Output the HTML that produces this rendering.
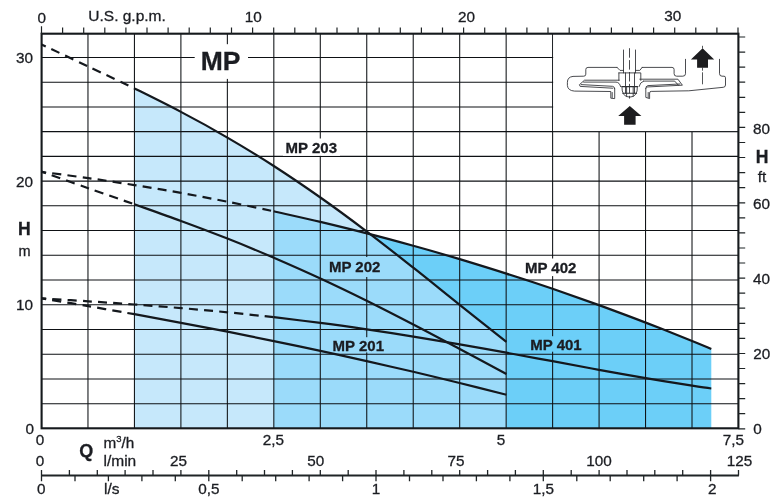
<!DOCTYPE html>
<html><head><meta charset="utf-8"><title>MP</title>
<style>html,body{margin:0;padding:0;background:#fff}body{width:778px;height:501px;overflow:hidden}</style></head>
<body>
<svg width="778" height="501" viewBox="0 0 778 501" style="display:block">
<rect width="778" height="501" fill="#fff"/>
<path d="M134.4,428 L134.4,88.4 L136.4,89.4 L138.4,90.4 L140.4,91.3 L142.4,92.3 L144.4,93.3 L146.4,94.3 L148.4,95.3 L150.4,96.3 L152.4,97.3 L154.4,98.3 L156.4,99.3 L158.4,100.3 L160.4,101.3 L162.4,102.3 L164.4,103.3 L166.4,104.3 L168.4,105.4 L170.4,106.4 L172.4,107.4 L174.4,108.5 L176.4,109.5 L178.4,110.5 L180.4,111.6 L182.4,112.6 L184.4,113.7 L186.4,114.8 L188.4,115.8 L190.4,116.9 L192.4,118.0 L194.4,119.1 L196.4,120.1 L198.4,121.2 L200.4,122.3 L202.4,123.4 L204.4,124.5 L206.4,125.6 L208.4,126.7 L210.4,127.9 L212.4,129.0 L214.4,130.1 L216.4,131.3 L218.4,132.4 L220.4,133.5 L222.4,134.7 L224.4,135.8 L226.4,137.0 L228.4,138.2 L230.4,139.3 L232.4,140.5 L234.4,141.7 L236.4,142.9 L238.4,144.1 L240.4,145.3 L242.4,146.5 L244.4,147.7 L246.4,148.9 L248.4,150.1 L250.4,151.3 L252.4,152.5 L254.4,153.8 L256.4,155.0 L258.4,156.3 L260.4,157.5 L262.4,158.8 L264.4,160.0 L266.4,161.3 L268.4,162.6 L270.4,163.8 L272.4,165.1 L274.4,166.4 L276.4,167.7 L278.4,169.0 L280.4,170.3 L282.4,171.6 L284.4,172.9 L286.4,174.2 L288.4,175.6 L290.4,176.9 L292.4,178.2 L294.4,179.6 L296.4,180.9 L298.4,182.3 L300.4,183.6 L302.4,185.0 L304.4,186.4 L306.4,187.7 L308.4,189.1 L310.4,190.5 L312.4,191.9 L314.4,193.3 L316.4,194.7 L318.4,196.1 L320.4,197.5 L322.4,198.9 L324.4,200.3 L326.4,201.8 L328.4,203.2 L330.4,204.6 L332.4,206.1 L334.4,207.5 L336.4,209.0 L338.4,210.4 L340.4,211.9 L342.4,213.3 L344.4,214.8 L346.4,216.3 L348.4,217.8 L350.4,219.2 L352.4,220.7 L354.4,222.2 L356.4,223.7 L358.4,225.2 L360.4,226.7 L362.4,228.2 L364.4,229.7 L366.4,231.2 L368.4,232.8 L370.4,234.3 L370.4,428 Z" fill="#c6e8fb"/>
<path d="M370.4,428 L370.4,234.3 L372.4,234.8 L374.4,235.3 L376.4,235.8 L378.4,236.3 L380.4,236.9 L382.4,237.4 L384.4,237.9 L386.4,238.5 L388.4,239.0 L390.4,239.5 L392.4,240.1 L394.4,240.6 L396.4,241.1 L398.4,241.7 L400.4,242.2 L402.4,242.8 L404.4,243.3 L406.4,243.9 L408.4,244.4 L410.4,245.0 L412.4,245.5 L414.4,246.1 L416.4,246.6 L418.4,247.2 L420.4,247.7 L422.4,248.3 L424.4,248.9 L426.4,249.4 L428.4,250.0 L430.4,250.6 L432.4,251.1 L434.4,251.7 L436.4,252.3 L438.4,252.9 L440.4,253.4 L442.4,254.0 L444.4,254.6 L446.4,255.2 L448.4,255.8 L450.4,256.4 L452.4,257.0 L454.4,257.5 L456.4,258.1 L458.4,258.7 L460.4,259.3 L462.4,259.9 L464.4,260.5 L466.4,261.1 L468.4,261.7 L470.4,262.3 L472.4,262.9 L474.4,263.6 L476.4,264.2 L478.4,264.8 L480.4,265.4 L482.4,266.0 L484.4,266.6 L486.4,267.2 L488.4,267.9 L490.4,268.5 L492.4,269.1 L494.4,269.7 L496.4,270.4 L498.4,271.0 L500.4,271.6 L502.4,272.3 L504.4,272.9 L506.4,273.6 L508.4,274.2 L510.4,274.8 L512.4,275.5 L514.4,276.1 L516.4,276.8 L518.4,277.4 L520.4,278.1 L522.4,278.7 L524.4,279.4 L526.4,280.0 L528.4,280.7 L530.4,281.4 L532.4,282.0 L534.4,282.7 L536.4,283.3 L538.4,284.0 L540.4,284.7 L542.4,285.4 L544.4,286.0 L546.4,286.7 L548.4,287.4 L550.4,288.1 L552.4,288.7 L554.4,289.4 L556.4,290.1 L558.4,290.8 L560.4,291.5 L562.4,292.2 L564.4,292.9 L566.4,293.6 L568.4,294.3 L570.4,295.0 L572.4,295.7 L574.4,296.4 L576.4,297.1 L578.4,297.8 L580.4,298.5 L582.4,299.2 L584.4,299.9 L586.4,300.6 L588.4,301.3 L590.4,302.0 L592.4,302.8 L594.4,303.5 L596.4,304.2 L598.4,304.9 L600.4,305.7 L602.4,306.4 L604.4,307.1 L606.4,307.8 L608.4,308.6 L610.4,309.3 L612.4,310.1 L614.4,310.8 L616.4,311.5 L618.4,312.3 L620.4,313.0 L622.4,313.8 L624.4,314.5 L626.4,315.3 L628.4,316.0 L630.4,316.8 L632.4,317.5 L634.4,318.3 L636.4,319.1 L638.4,319.8 L640.4,320.6 L642.4,321.3 L644.4,322.1 L646.4,322.9 L648.4,323.7 L650.4,324.4 L652.4,325.2 L654.4,326.0 L656.4,326.8 L658.4,327.5 L660.4,328.3 L662.4,329.1 L664.4,329.9 L666.4,330.7 L668.4,331.5 L670.4,332.3 L672.4,333.1 L674.4,333.9 L676.4,334.7 L678.4,335.5 L680.4,336.3 L682.4,337.1 L684.4,337.9 L686.4,338.7 L688.4,339.5 L690.4,340.3 L692.4,341.1 L694.4,342.0 L696.4,342.8 L698.4,343.6 L700.4,344.4 L702.4,345.3 L704.4,346.1 L706.4,346.9 L708.4,347.7 L710.4,348.6 L711.3,349.0 L711.3,428 Z" fill="#6ccff8"/>
<path d="M273.8,428 L273.8,211.3 L275.8,211.7 L277.8,212.2 L279.8,212.6 L281.8,213.1 L283.8,213.5 L285.8,213.9 L287.8,214.4 L289.8,214.8 L291.8,215.3 L293.8,215.7 L295.8,216.2 L297.8,216.6 L299.8,217.1 L301.8,217.5 L303.8,218.0 L305.8,218.5 L307.8,218.9 L309.8,219.4 L311.8,219.9 L313.8,220.3 L315.8,220.8 L317.8,221.3 L319.8,221.7 L321.8,222.2 L323.8,222.7 L325.8,223.2 L327.8,223.6 L329.8,224.1 L331.8,224.6 L333.8,225.1 L335.8,225.6 L337.8,226.1 L339.8,226.6 L341.8,227.1 L343.8,227.5 L345.8,228.0 L347.8,228.5 L349.8,229.0 L351.8,229.5 L353.8,230.0 L355.8,230.5 L357.8,231.0 L359.8,231.6 L361.8,232.1 L363.8,232.6 L365.8,233.1 L367.8,233.6 L369.8,234.1 L370.4,234.3 L370.4,234.3 L372.4,235.8 L374.4,237.3 L376.4,238.9 L378.4,240.4 L380.4,241.9 L382.4,243.5 L384.4,245.0 L386.4,246.6 L388.4,248.1 L390.4,249.7 L392.4,251.2 L394.4,252.8 L396.4,254.4 L398.4,255.9 L400.4,257.5 L402.4,259.1 L404.4,260.6 L406.4,262.2 L408.4,263.8 L410.4,265.4 L412.4,267.0 L414.4,268.6 L416.4,270.1 L418.4,271.7 L420.4,273.3 L422.4,274.9 L424.4,276.5 L426.4,278.1 L428.4,279.7 L430.4,281.3 L432.4,282.9 L434.4,284.5 L436.4,286.1 L438.4,287.7 L440.4,289.3 L442.4,290.9 L444.4,292.5 L446.4,294.1 L448.4,295.7 L450.4,297.3 L452.4,298.9 L454.4,300.5 L456.4,302.2 L458.4,303.8 L460.4,305.4 L462.4,307.0 L464.4,308.6 L466.4,310.2 L468.4,311.8 L470.4,313.4 L472.4,315.0 L474.4,316.6 L476.4,318.2 L478.4,319.8 L480.4,321.3 L482.4,322.9 L484.4,324.5 L486.4,326.1 L488.4,327.7 L490.4,329.3 L492.4,330.9 L494.4,332.4 L496.4,334.0 L498.4,335.6 L500.4,337.1 L502.4,338.7 L504.4,340.3 L506.4,341.8 L506.4,341.8 L506.4,428 Z" fill="#9bdbfa"/>
<path d="M87.97,34V428 M134.43,34V428 M180.90,34V428 M227.36,34V428 M273.83,34V428 M320.29,34V428 M366.75,34V428 M413.22,34V428 M459.69,34V428 M506.15,34V428 M552.62,34V428 M599.08,34V428 M645.55,34V428 M692.01,34V428 M41.5,403.67H738.5 M41.5,378.94H738.5 M41.5,354.21H738.5 M41.5,329.48H738.5 M41.5,304.75H738.5 M41.5,280.02H738.5 M41.5,255.29H738.5 M41.5,230.56H738.5 M41.5,205.83H738.5 M41.5,181.10H738.5 M41.5,156.37H738.5 M41.5,131.64H738.5 M41.5,106.91H738.5 M41.5,82.18H738.5 M41.5,57.45H738.5" stroke="#0e1114" stroke-width="1.05" fill="none"/>
<rect x="553.16" y="34" width="186" height="97.09" fill="#fff"/>
<rect x="194.7" y="44.2" width="53.3" height="34.7" fill="#fff"/>
<rect x="283" y="138.5" width="57" height="17.3" fill="#fff"/>
<rect x="522" y="258.5" width="58" height="17.6" fill="#fff"/>
<rect x="528" y="336.2" width="57" height="15.5" fill="#6ccff8"/>
<rect x="326" y="257" width="58" height="20" fill="#9bdbfa"/>
<rect x="330" y="337.2" width="57" height="15.2" fill="#9bdbfa"/>
<rect x="41.6" y="33.7" width="696.8" height="394.6" fill="none" stroke="#15191c" stroke-width="2.1"/>
<path d="M134.4,88.4 C142.2,92.3 165.4,103.7 180.9,111.9 C196.4,120.0 211.9,128.5 227.4,137.6 C242.9,146.6 258.3,156.0 273.8,166.0 C289.3,176.0 304.9,186.6 320.4,197.5 C335.9,208.4 351.4,219.9 366.9,231.6 C382.4,243.3 397.8,255.5 413.3,267.7 C428.8,279.9 444.2,292.5 459.7,304.8 C475.2,317.2 498.6,335.7 506.4,341.8" stroke="#14181d" stroke-width="2.2" fill="none"/>
<path d="M134.4,204.3 C142.2,207.1 165.5,215.2 181.0,221.0 C196.5,226.7 211.9,232.5 227.4,238.6 C242.9,244.7 258.3,251.1 273.8,257.7 C289.3,264.4 304.9,271.3 320.4,278.5 C335.9,285.7 351.2,293.1 366.7,300.7 C382.2,308.4 397.8,316.4 413.3,324.5 C428.8,332.5 444.2,340.8 459.7,349.0 C475.2,357.3 498.6,369.9 506.4,374.0" stroke="#14181d" stroke-width="2.2" fill="none"/>
<path d="M134.4,314.2 C142.2,315.6 165.5,319.9 181.0,322.8 C196.5,325.7 212.0,328.7 227.5,331.7 C243.0,334.8 258.3,337.9 273.8,341.1 C289.3,344.3 304.9,347.6 320.4,350.9 C335.9,354.2 351.2,357.6 366.7,361.1 C382.2,364.6 397.8,368.2 413.3,371.8 C428.8,375.5 444.1,379.2 459.6,383.0 C475.1,386.8 498.6,392.8 506.4,394.7" stroke="#14181d" stroke-width="2.2" fill="none"/>
<path d="M273.8,211.3 C281.6,213.1 304.9,218.2 320.4,221.9 C335.9,225.6 351.4,229.4 366.9,233.4 C382.4,237.3 397.8,241.5 413.3,245.8 C428.8,250.1 444.2,254.5 459.7,259.1 C475.2,263.8 490.9,268.6 506.4,273.6 C521.9,278.5 537.2,283.5 552.6,288.8 C568.0,294.1 583.5,299.5 599.0,305.1 C614.5,310.8 630.2,316.6 645.7,322.6 C661.2,328.6 681.2,336.6 692.1,341.0 C703.0,345.4 708.1,347.6 711.3,349.0" stroke="#14181d" stroke-width="2.2" fill="none"/>
<path d="M273.8,317.2 C281.6,318.2 304.9,320.9 320.4,322.9 C335.9,324.9 351.2,327.1 366.7,329.4 C382.2,331.7 397.9,334.1 413.4,336.6 C428.9,339.1 444.2,341.7 459.7,344.4 C475.2,347.1 490.9,349.9 506.4,352.7 C521.9,355.5 537.2,358.4 552.6,361.2 C568.0,364.1 583.5,367.0 599.0,369.8 C614.5,372.6 630.2,375.4 645.7,378.1 C661.2,380.7 681.2,383.9 692.1,385.7 C703.0,387.4 708.1,388.1 711.3,388.5" stroke="#14181d" stroke-width="2.2" fill="none"/>
<path d="M41.5,44.4 C49.2,48.1 72.5,59.0 88.0,66.4 C103.5,73.7 126.7,84.7 134.4,88.4" stroke="#14181d" stroke-width="2.2" fill="none" stroke-dasharray="9 6.2" stroke-dashoffset="4.2"/>
<path d="M41.5,171.6 C49.3,174.4 72.7,182.8 88.2,188.2 C103.7,193.6 126.7,201.6 134.4,204.3" stroke="#14181d" stroke-width="2.2" fill="none" stroke-dasharray="9 6.2" stroke-dashoffset="4.2"/>
<path d="M41.5,298.3 C49.3,299.6 72.7,303.4 88.2,306.1 C103.7,308.8 126.7,312.9 134.4,314.2" stroke="#14181d" stroke-width="2.2" fill="none" stroke-dasharray="9 6.2" stroke-dashoffset="4.2"/>
<path d="M41.5,171.9 C49.3,172.9 72.7,175.9 88.2,178.1 C103.7,180.3 118.9,182.6 134.4,185.1 C149.9,187.5 165.5,190.2 181.0,192.9 C196.5,195.7 211.9,198.6 227.4,201.7 C242.9,204.7 266.1,209.7 273.8,211.3" stroke="#14181d" stroke-width="2.2" fill="none" stroke-dasharray="9 6.2" stroke-dashoffset="4.2"/>
<path d="M41.5,298.4 C49.3,298.9 72.7,300.3 88.2,301.3 C103.7,302.3 118.9,303.3 134.4,304.5 C149.9,305.6 165.5,306.8 181.0,308.1 C196.5,309.4 212.0,310.8 227.5,312.3 C243.0,313.8 266.1,316.4 273.8,317.2" stroke="#14181d" stroke-width="2.2" fill="none" stroke-dasharray="9 6.2" stroke-dashoffset="4.2"/>
<path d="M41.5,26.3V34 M62.6,27.4V34 M83.7,27.4V34 M104.8,27.4V34 M125.9,27.4V34 M147.0,27.4V34 M168.1,27.4V34 M189.2,27.4V34 M210.3,27.4V34 M231.5,27.4V34 M252.6,27.4V34 M273.7,27.4V34 M294.8,27.4V34 M315.9,27.4V34 M337.0,27.4V34 M358.1,27.4V34 M379.2,27.4V34 M400.3,27.4V34 M421.4,27.4V34 M442.5,27.4V34 M463.6,27.4V34 M484.7,27.4V34 M505.8,27.4V34 M526.9,27.4V34 M548.0,27.4V34 M569.2,27.4V34 M590.3,27.4V34 M611.4,27.4V34 M632.5,27.4V34 M653.6,27.4V34 M674.7,27.4V34 M695.8,27.4V34 M716.9,27.4V34 M738.0,27.4V34 M738.5,428.8H745.2 M738.5,413.7H745.2 M738.5,398.7H745.2 M738.5,383.6H745.2 M738.5,368.5H745.2 M738.5,353.5H745.2 M738.5,338.4H745.2 M738.5,323.3H745.2 M738.5,308.2H745.2 M738.5,293.2H745.2 M738.5,278.1H745.2 M738.5,263.0H745.2 M738.5,248.0H745.2 M738.5,232.9H745.2 M738.5,217.8H745.2 M738.5,202.8H745.2 M738.5,187.7H745.2 M738.5,172.6H745.2 M738.5,157.5H745.2 M738.5,142.5H745.2 M738.5,127.4H745.2 M738.5,112.3H745.2 M738.5,97.3H745.2 M738.5,82.2H745.2 M738.5,67.1H745.2 M738.5,52.1H745.2 M738.5,37.0H745.2" stroke="#1f2426" stroke-width="1.2" fill="none"/>
<path d="M41,475.5H738.9" stroke="#1f2426" stroke-width="2" fill="none"/>
<path d="M41.5,470V475.6 M69.4,470V475.6 M97.3,470V475.6 M125.1,470V475.6 M153.0,470V475.6 M180.9,470V475.6 M208.8,470V475.6 M236.7,470V475.6 M264.5,470V475.6 M292.4,470V475.6 M320.3,470V475.6 M348.2,470V475.6 M376.0,470V475.6 M403.9,470V475.6 M431.8,470V475.6 M459.7,470V475.6 M487.6,470V475.6 M515.4,470V475.6 M543.3,470V475.6 M571.2,470V475.6 M599.1,470V475.6 M627.0,470V475.6 M654.8,470V475.6 M682.7,470V475.6 M710.6,470V475.6 M738.5,470V475.6 M41.5,475.6V481.3 M75.0,475.6V481.3 M108.4,475.6V481.3 M141.9,475.6V481.3 M175.3,475.6V481.3 M208.8,475.6V481.3 M242.2,475.6V481.3 M275.7,475.6V481.3 M309.1,475.6V481.3 M342.6,475.6V481.3 M376.0,475.6V481.3 M409.5,475.6V481.3 M443.0,475.6V481.3 M476.4,475.6V481.3 M509.9,475.6V481.3 M543.3,475.6V481.3 M576.8,475.6V481.3 M610.2,475.6V481.3 M643.7,475.6V481.3 M677.1,475.6V481.3 M710.6,475.6V481.3" stroke="#1f2426" stroke-width="1.3" fill="none"/>
<g font-family="'Liberation Sans', Arial, sans-serif" fill="#1b1d22" stroke="#1b1d22" stroke-width="0.3" font-size="15.3">
<text x="41.7" y="22.6" text-anchor="middle" >0</text>
<text x="88.3" y="20.8" text-anchor="start" font-size="15.5">U.S. g.p.m.</text>
<text x="253.3" y="22.2" text-anchor="middle" >10</text>
<text x="466.5" y="22.2" text-anchor="middle" >20</text>
<text x="672.8" y="20.9" text-anchor="middle" >30</text>
<text x="33.0" y="63.0" text-anchor="end" >30</text>
<text x="33.0" y="187.0" text-anchor="end" >20</text>
<text x="33.0" y="309.6" text-anchor="end" >10</text>
<text x="34.0" y="434.2" text-anchor="end" >0</text>
<text x="24.3" y="235.3" text-anchor="middle" font-weight="bold" font-size="17.6">H</text>
<text x="24.5" y="255.7" text-anchor="middle" font-size="14.5">m</text>
<text x="753.0" y="134.0" text-anchor="start" >80</text>
<text x="753.0" y="208.8" text-anchor="start" >60</text>
<text x="753.0" y="283.8" text-anchor="start" >40</text>
<text x="753.3" y="358.9" text-anchor="start" >20</text>
<text x="753.3" y="433.6" text-anchor="start" >0</text>
<text x="762.0" y="162.8" text-anchor="middle" font-weight="bold" font-size="17.6">H</text>
<text x="762.0" y="182.3" text-anchor="middle" font-size="15.3">ft</text>
<text x="40.0" y="445.3" text-anchor="middle" >0</text>
<text x="273.5" y="445.0" text-anchor="middle" >2,5</text>
<text x="501.0" y="445.0" text-anchor="middle" >5</text>
<text x="733.5" y="445.0" text-anchor="middle" >7,5</text>
<text x="86.2" y="457.0" text-anchor="middle" font-weight="bold" font-size="18">Q</text>
<text x="103.5" y="447.8" font-size="15.3">m<tspan font-size="9.5" dy="-5.5">3</tspan><tspan dy="5.5">/h</tspan></text>
<text x="103.5" y="466.0" text-anchor="start" font-size="15.5">l/min</text>
<text x="40.0" y="466.2" text-anchor="middle" >0</text>
<text x="178.5" y="466.2" text-anchor="middle" >25</text>
<text x="315.8" y="466.2" text-anchor="middle" >50</text>
<text x="456.0" y="466.2" text-anchor="middle" >75</text>
<text x="599.0" y="466.2" text-anchor="middle" >100</text>
<text x="739.5" y="466.2" text-anchor="middle" >125</text>
<text x="41.3" y="494.2" text-anchor="middle" >0</text>
<text x="104.0" y="494.0" text-anchor="start" font-size="15.5">l/s</text>
<text x="208.8" y="494.2" text-anchor="middle" >0,5</text>
<text x="376.0" y="494.2" text-anchor="middle" >1</text>
<text x="543.3" y="494.2" text-anchor="middle" >1,5</text>
<text x="712.3" y="494.2" text-anchor="middle" >2</text>
<text x="220.5" y="70.0" text-anchor="middle" font-weight="bold" font-size="26.5">MP</text>
<text x="311.3" y="153.0" text-anchor="middle" font-weight="bold" font-size="15">MP 203</text>
<text x="354.7" y="271.5" text-anchor="middle" font-weight="bold" font-size="15">MP 202</text>
<text x="358.3" y="350.6" text-anchor="middle" font-weight="bold" font-size="15">MP 201</text>
<text x="550.7" y="272.7" text-anchor="middle" font-weight="bold" font-size="15">MP 402</text>
<text x="556.0" y="349.6" text-anchor="middle" font-weight="bold" font-size="15">MP 401</text>
</g>
<g fill="none" stroke="#2a2c30" stroke-width="0.85" stroke-linejoin="round" stroke-linecap="round">
<!-- casing left -->
<path d="M617,67.4H588Q585.8,67.4 585.8,69.5V74.2Q585.8,76.2 583.7,76.2L573,76.4Q567.4,77 567.4,82.3V85.5Q567.8,90.6 574.5,91.1L610.8,91.5V98.2L614.7,98.6V88.7"/>
<path d="M612.2,92.5V97.5"/>
<!-- casing right -->
<path d="M642.2,67.4H672Q674.1,67.4 674.1,69.5V73.7Q674.1,76.2 676.6,76.2H682.8Q685.5,76.2 685.5,73.7V59.3"/>
<path d="M719.5,59.3V73.7Q719.5,76.1 722,76.2H724Q725.5,76.2 725.5,77.8V85Q725.5,87.1 723.3,87.3L688.8,90.8L651.2,91.4Q649.6,91.4 649.6,93V98.6L645.8,97.4V88.4"/>
<path d="M648.2,92.5V97.5"/>
<!-- shaft -->
<path d="M623.5,50V72.9M635.5,50V72.9"/>
<path d="M617,67.4L620,70.4H623.5M642.2,67.4L639.8,70.4H635.5"/>
<!-- hub -->
<path d="M618.9,72.9H640.8V80.4M618.9,72.9V80.4"/>
<path d="M625.5,72.9V93.2M634.5,72.9V93.2M626.6,86.6V96.2M633.2,86.6V96.2"/>
<path d="M621.9,86.6H637.4M622.8,93.2H636.6" stroke-width="1.1"/>
<path d="M621.9,86.6Q621.6,97.1 629.7,97.1Q637.8,97.1 637.4,86.6"/>
<!-- impeller left -->
<path d="M619.2,80.2H584.5L579.4,84.7L580.2,86.4L612.8,88.2"/>
<path d="M583.6,82.1H616Q619.6,82.3 620.6,86.6"/>
<path d="M581.2,84.6L612.5,86.3Q614.7,86.6 614.7,88.7"/>
<!-- impeller right -->
<path d="M639.8,79.2H677.9L682.4,85.2L646.4,87"/>
<path d="M643.5,81.1H674.7L678.4,85.2"/>
<path d="M639,86.6Q640,82.3 643.5,81.1"/>
<path d="M679.8,84L647.8,85.6Q645.8,86 645.8,88.4"/>
</g>
<path d="M629.5,48.2V98.6" stroke="#2a2c30" stroke-width="0.85" stroke-dasharray="9.5 2.4" fill="none"/>
<path d="M702.5,45.8V48.5M702.5,67.5V84.4" stroke="#2a2c30" stroke-width="0.8" stroke-dasharray="3.2 1.6 12 2" fill="none"/>
<path d="M629.8,105.9L641.4,115.9H635.6V124.7H624.1V115.9H618.2Z" fill="#1d1d1f"/>
<path d="M702.6,48.2L714.2,59.4H708V67.7H697.1V59.4H690.9Z" fill="#1d1d1f"/>

</svg>
</body></html>
